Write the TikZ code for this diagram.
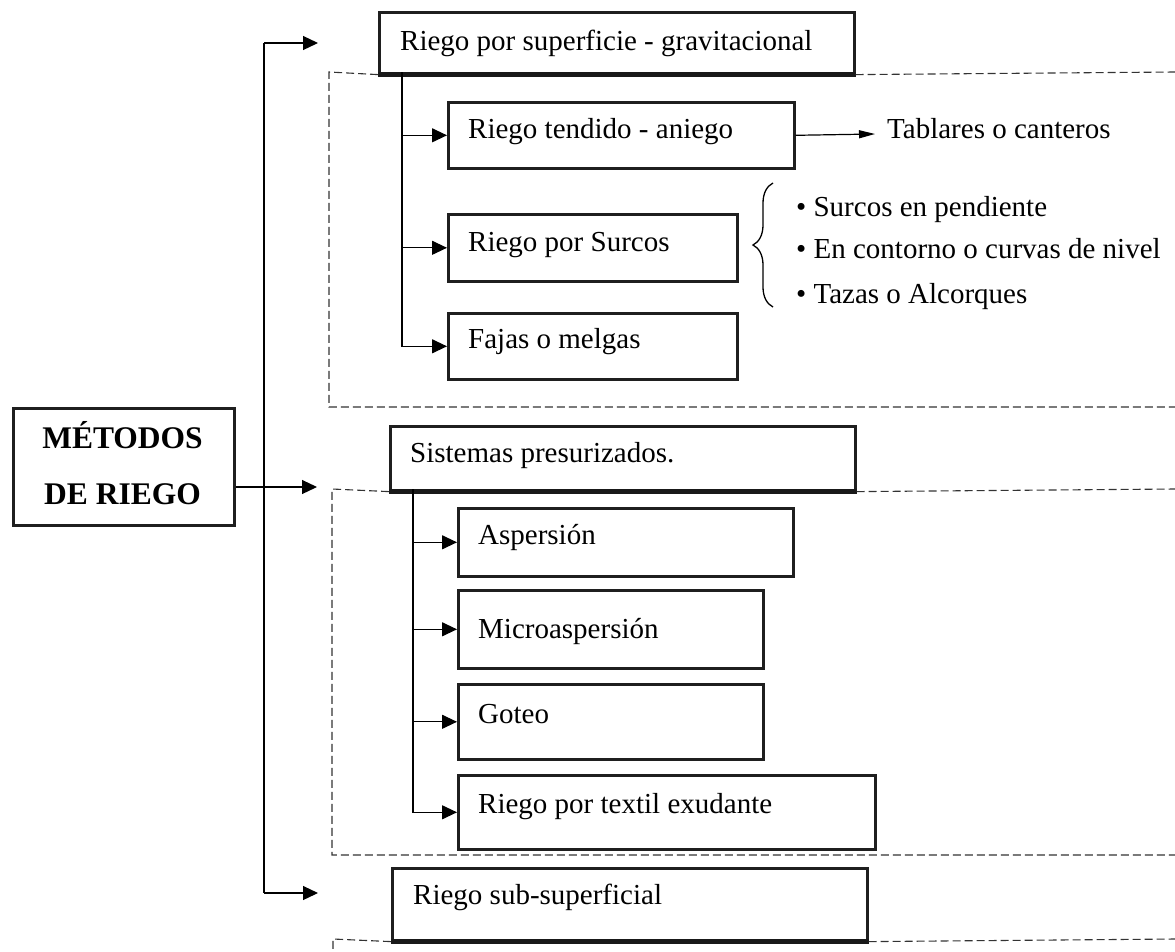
\documentclass[tikz,border=0pt]{standalone}
\usepackage{fontspec}
\setmainfont{Liberation Serif}
\usetikzlibrary{arrows.meta,decorations.pathreplacing}
\begin{document}
\begin{tikzpicture}[x=1pt,y=-1pt,
  box/.style={draw=black!88, line width=2.6pt, rectangle, inner sep=0pt, anchor=north west},
  mainbox/.style={box, line width=3pt},
  txt/.style={inner sep=0pt, anchor=base west, font=\fontsize{29}{34}\selectfont},
  boldtxt/.style={inner sep=0pt, anchor=base, font=\bfseries\fontsize{31.5}{36}\selectfont},
  conn/.style={line width=1.2pt, black},
  arr/.style={conn, -{Triangle[length=15pt,width=14pt]}},
  arrsmall/.style={conn, -{Triangle[length=16pt,width=8pt]}},
  dsh/.style={line width=1.1pt, black!80, dash pattern=on 8pt off 4pt},
  thickbottom/.style={line width=4.5pt, black!90}
]
\useasboundingbox (0,0) rectangle (1175,951);

% main box
\node[mainbox, minimum width=221pt, minimum height=117pt] (m) at (12,407) {};
\node[boldtxt] (mt1) at (122.5,448) {MÉTODOS};
\node[boldtxt] (mt2) at (122.5,504) {DE RIEGO};

% level-1 boxes
\node[box, minimum width=475pt, minimum height=61pt] (b1) at (378,11) {};
\node[box, minimum width=465pt, minimum height=64pt] (b2) at (389,425) {};
\node[box, minimum width=475pt, minimum height=72pt] (b3) at (391,867) {};
\draw[thickbottom] (b1.south west) -- (b1.south east);
\draw[thickbottom] (b2.south west) -- (b2.south east);
\draw[thickbottom] (b3.south west) -- (b3.south east);
\node[txt] (b1t) at (400,50) {Riego por superficie - gravitacional};
\node[txt] (b2t) at (410,462) {Sistemas presurizados.};
\node[txt] (b3t) at (413,904) {Riego sub-superficial};

% group 1 boxes
\node[box, minimum width=346pt, minimum height=66pt] (tend) at (447,101) {};
\node[box, minimum width=289pt, minimum height=67pt] (surc) at (447,213) {};
\node[box, minimum width=289pt, minimum height=66pt] (faja) at (447,312) {};
\node[txt] (tendt) at (468,138) {Riego tendido - aniego};
\node[txt] (surct) at (468,251) {Riego por Surcos};
\node[txt] (fajat) at (468,348) {Fajas o melgas};
\node[txt] (tab) at (887,138) {Tablares o canteros};
\node[txt] (bul1) at (796,216) {• Surcos en pendiente};
\node[txt] (bul2) at (796,258) {• En contorno o curvas de nivel};
\node[txt] (bul3) at (796,303) {• Tazas o Alcorques};

% group 2 boxes
\node[box, minimum width=335pt, minimum height=68pt] (asp) at (457,507) {};
\node[box, minimum width=305pt, minimum height=78pt] (mic) at (457,589) {};
\node[box, minimum width=305pt, minimum height=75pt] (got) at (457,683) {};
\node[box, minimum width=417pt, minimum height=74pt] (tex) at (457,774) {};
\node[txt] (aspt) at (478,544) {Aspersión};
\node[txt] (mict) at (478,638) {Microaspersión};
\node[txt] (gott) at (478,723) {Goteo};
\node[txt] (text) at (478,813) {Riego por textil exudante};

% dashed group frames
\draw[dsh] (b1.south west) -- (329,72) -- (329,407) -- (1175,407);
\draw[dsh] (b1.south east) -- (1175,72);
\draw[dsh] (b2.south west) -- (332,489) -- (332,855) -- (1175,855);
\draw[dsh] (b2.south east) -- (1175,489);
\draw[dsh] (b3.south west) -- (333,939) -- (333,951);
\draw[dsh] (b3.south east) -- (1175,939);

% main trunk
\coordinate (t1) at (264,43);
\coordinate (t3) at (264,893);
\coordinate (a1) at (318,43);
\coordinate (a2) at (317,487);
\coordinate (a3) at (318,893);
\draw[conn] (t1) -- (t3);
\draw[arr] (t1) -- (a1);
\draw[arr] (m.east |- a2) -- (a2);
\draw[arr] (t3) -- (a3);

% inner trunk 1
\coordinate (s1) at (402,72);
\draw[arr] (s1) |- (tend.west);
\draw[arr] (s1) |- (surc.west);
\draw[arr] (s1) |- (faja.west);
\coordinate (tabend) at (875,134);
\draw[arrsmall] (tend.east) -- (tabend);

% brace
\coordinate (br1) at (773,307);
\coordinate (br2) at (773,183);
\draw[line width=1.3pt, decorate, decoration={brace, amplitude=20pt, aspect=0.5}] (br1) -- (br2);

% inner trunk 2
\coordinate (s2) at (413,489);
\draw[arr] (s2) |- (asp.west);
\draw[arr] (s2) |- (mic.west);
\draw[arr] (s2) |- (got.west);
\draw[arr] (s2) |- (tex.west);
\end{tikzpicture}
\end{document}
